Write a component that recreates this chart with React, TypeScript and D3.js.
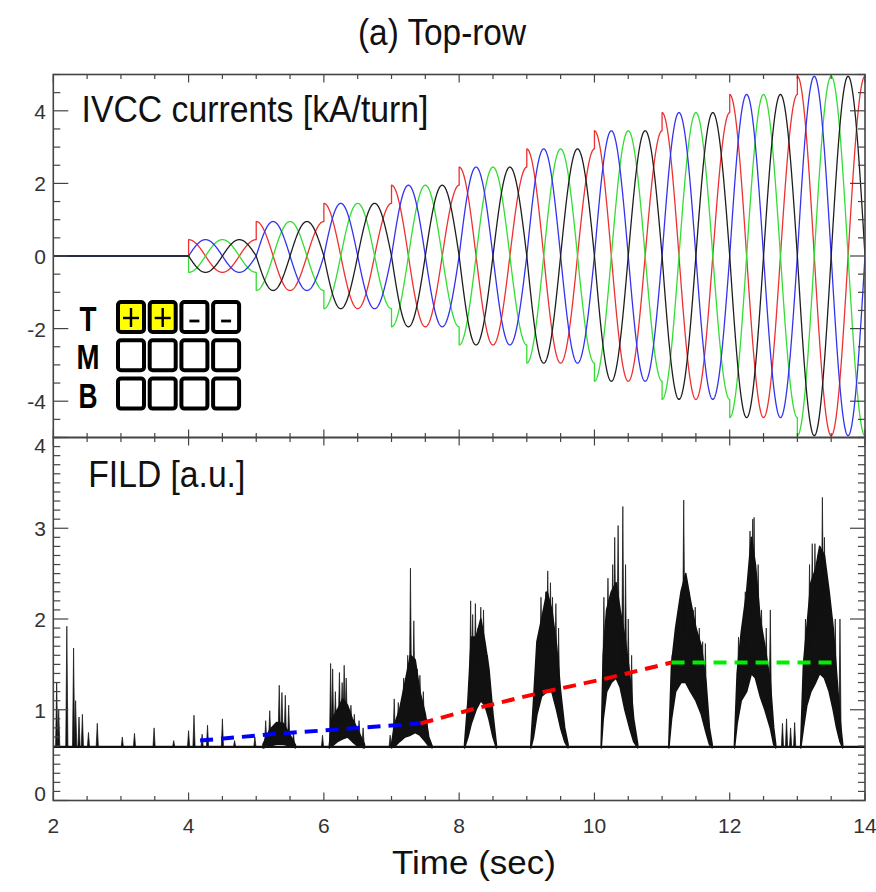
import React from 'react';
import * as d3 from 'd3';

// ---------- axes ----------
const TIME_DOMAIN: [number, number] = [2, 14];
const TIME_TICKS = [2, 4, 6, 8, 10, 12, 14];
const IVCC_DOMAIN: [number, number] = [-5, 5];
const IVCC_TICKS = [-4, -2, 0, 2, 4];
const FILD_DOMAIN: [number, number] = [0, 4];
const FILD_TICKS = [0, 1, 2, 3, 4];

// ---------- IVCC currents (top panel) ----------
// amplitude of each 1-second step
const STEP_START = [4, 5, 6, 7, 8, 9, 10, 11, 12, 13];
const STEP_AMPLITUDE = [0.45, 0.95, 1.45, 1.95, 2.45, 2.95, 3.45, 3.95, 4.45, 4.95];
const ROTATION_PERIOD = 1.0; // s
const COIL_NAMES = ['red', 'green', 'blue', 'black'];
const COIL_COLORS = ['#ee3030', '#33dd33', '#3333ee', '#1e1e1e'];
const COIL_DELAY = [0, 0.5, 0.25, 0.75]; // s, time of first peak after step

// ---------- FILD (bottom panel) ----------
const FILD_BASELINE = 0.59;
const ISOLATED_SPIKES: [number, number][] = [
  [2.05, 1.3], [2.08, 1.0], [2.2, 1.92], [2.3, 1.68], [2.33, 1.1], [2.38, 0.92],
  [2.43, 0.95], [2.52, 0.75], [2.65, 0.85], [3.02, 0.7], [3.2, 0.74], [3.49, 0.8],
  [3.78, 0.66], [4.0, 0.77], [4.08, 0.94], [4.2, 0.73], [4.28, 0.83], [4.5, 0.9],
  [4.68, 0.66], [4.98, 0.7], [5.98, 0.72], [6.98, 0.72], [12.78, 0.85], [12.84, 0.9],
  [12.9, 0.8], [12.96, 0.86],
];
// dense burst envelopes: [time, low, high]
const BURST_1: [number, number, number][] = [
  [5.1, 0.58, 0.62], [5.2, 0.6, 0.78], [5.3, 0.62, 0.86], [5.4, 0.62, 0.85], [5.5, 0.6, 0.72], [5.58, 0.58, 0.61],
];
const BURST_2: [number, number, number][] = [
  [6.08, 0.58, 0.6], [6.12, 0.6, 0.9], [6.2, 0.65, 1.0], [6.28, 0.68, 1.12], [6.35, 0.7, 1.05],
  [6.42, 0.65, 0.9], [6.5, 0.6, 0.78], [6.6, 0.58, 0.62],
];
const BURST_3: [number, number, number][] = [
  [7.0, 0.58, 0.62], [7.05, 0.6, 0.85], [7.12, 0.65, 1.0], [7.2, 0.7, 1.3], [7.28, 0.72, 1.6],
  [7.35, 0.75, 1.55], [7.42, 0.72, 1.2], [7.5, 0.65, 0.95], [7.55, 0.6, 0.7], [7.6, 0.58, 0.6],
];
const BURST_4: [number, number, number][] = [
  [8.08, 0.58, 0.62], [8.13, 0.7, 1.1], [8.18, 0.85, 1.8], [8.25, 1.0, 1.8], [8.32, 1.1, 2.0],
  [8.38, 1.05, 1.75], [8.44, 0.9, 1.45], [8.5, 0.7, 0.95], [8.55, 0.58, 0.62],
];
const BURST_5: [number, number, number][] = [
  [9.06, 0.58, 0.62], [9.1, 0.7, 1.1], [9.15, 0.95, 1.75], [9.22, 1.15, 2.0], [9.3, 1.2, 2.3],
  [9.37, 1.2, 2.1], [9.44, 1.0, 1.7], [9.5, 0.8, 1.2], [9.56, 0.65, 0.8], [9.61, 0.58, 0.62],
];
const BURST_6: [number, number, number][] = [
  [10.1, 0.58, 0.62], [10.13, 0.9, 1.6], [10.18, 1.2, 2.1], [10.25, 1.3, 2.3], [10.32, 1.35, 2.4],
  [10.38, 1.25, 2.1], [10.45, 1.0, 1.8], [10.52, 0.8, 1.4], [10.58, 0.65, 0.9], [10.64, 0.58, 0.62],
];
const BURST_7: [number, number, number][] = [
  [11.1, 0.58, 0.62], [11.14, 0.9, 1.5], [11.2, 1.2, 1.9], [11.28, 1.3, 2.3], [11.35, 1.3, 2.5],
  [11.42, 1.2, 2.2], [11.5, 1.1, 1.9], [11.58, 0.95, 1.7], [11.65, 0.75, 1.3], [11.7, 0.62, 0.8], [11.74, 0.58, 0.62],
];
const BURST_8: [number, number, number][] = [
  [12.07, 0.58, 0.62], [12.11, 0.85, 1.4], [12.17, 1.1, 1.85], [12.25, 1.2, 2.3], [12.32, 1.4, 2.9],
  [12.38, 1.35, 2.6], [12.45, 1.15, 2.0], [12.52, 1.0, 1.7], [12.6, 0.8, 1.3], [12.65, 0.62, 0.8], [12.68, 0.58, 0.62],
];
const BURST_9: [number, number, number][] = [
  [13.05, 0.58, 0.62], [13.09, 0.8, 1.5], [13.14, 1.05, 1.9], [13.2, 1.2, 2.4], [13.27, 1.3, 2.55],
  [13.33, 1.4, 2.8], [13.4, 1.35, 2.7], [13.47, 1.2, 2.3], [13.53, 1.0, 1.9], [13.58, 0.8, 1.4],
  [13.63, 0.65, 0.9], [13.67, 0.58, 0.62],
];
// spikes sticking out of the bursts: [time, peak]
const BURST_SPIKES: [number, number][] = [
  [5.14, 0.88], [5.2, 0.99], [5.27, 0.8], [5.34, 1.27], [5.38, 1.19], [5.43, 1.16], [5.48, 1.05], [5.55, 0.75],
  [6.1, 1.51], [6.13, 1.45], [6.17, 1.2], [6.23, 1.41], [6.27, 1.3], [6.3, 1.49], [6.33, 1.35], [6.4, 1.05], [6.45, 0.95], [6.52, 0.88], [6.58, 0.8],
  [7.04, 1.12], [7.1, 1.08], [7.18, 1.35], [7.24, 1.6], [7.28, 2.56], [7.33, 1.98], [7.38, 1.45], [7.42, 1.38], [7.47, 1.2], [7.52, 0.9],
  [8.17, 2.2], [8.2, 2.05], [8.24, 2.17], [8.28, 1.9], [8.32, 2.13], [8.36, 2.1], [8.42, 1.6],
  [9.21, 2.24], [9.28, 2.3], [9.31, 2.53], [9.35, 2.4], [9.38, 2.24], [9.43, 2.17], [9.47, 1.9],
  [10.14, 2.24], [10.2, 2.45], [10.27, 2.6], [10.3, 2.9], [10.35, 3.03], [10.42, 3.24], [10.46, 2.6], [10.5, 2.0], [10.55, 1.6],
  [11.15, 1.6], [11.25, 2.0], [11.32, 3.31], [11.36, 2.4], [11.4, 2.3], [11.46, 2.1], [11.49, 2.13], [11.55, 1.9], [11.6, 1.75], [11.64, 1.73],
  [12.13, 1.8], [12.2, 1.95], [12.23, 2.3], [12.3, 2.97], [12.34, 3.1], [12.36, 3.12], [12.42, 2.6], [12.47, 2.1], [12.54, 1.9], [12.6, 2.1],
  [13.12, 2.0], [13.18, 2.6], [13.22, 2.83], [13.26, 2.83], [13.3, 2.7], [13.37, 3.34], [13.4, 2.9], [13.48, 2.2], [13.56, 2.0], [13.63, 2.0],
];
// dashed trend lines
const BLUE_TREND: [number, number][] = [[4.17, 0.66], [5.3, 0.735], [6.15, 0.78], [7.43, 0.85]];
const RED_TREND: [number, number][] = [[7.43, 0.85], [8.17, 1.0], [9.16, 1.18], [10.15, 1.34], [11.14, 1.52]];
const GREEN_TREND: [number, number][] = [[11.14, 1.52], [13.53, 1.52]];

// ---------- coil legend ----------
const GRID_ROWS = ['T', 'M', 'B'];
const TOP_ROW_SIGNS = ['+', '+', '-', '-'];

const FONT = "'Liberation Sans', Arial, Helvetica, sans-serif";

export default function App() {
  const W = 876, H = 892;
  const L = 53.3, R = 865;
  const T1 = 74.5, B1 = 437.5, T2 = 437.5, B2 = 800.5;

  const x = d3.scaleLinear().domain(TIME_DOMAIN).range([L, R]);
  const y1 = d3.scaleLinear().domain(IVCC_DOMAIN).range([B1, T1]);
  const y2 = d3.scaleLinear().domain(FILD_DOMAIN).range([B2, T2]);

  const coilSeries = (delay: number) => {
    const pts: [number, number][] = [[TIME_DOMAIN[0], 0], [STEP_START[0], 0]];
    STEP_START.forEach((t0, i) => {
      const t1 = i + 1 < STEP_START.length ? STEP_START[i + 1] : TIME_DOMAIN[1];
      const A = STEP_AMPLITUDE[i];
      const n = Math.round((t1 - t0) / 0.004);
      for (let k = 0; k <= n; k++) {
        const t = t0 + ((t1 - t0) * k) / n;
        pts.push([t, A * Math.cos((2 * Math.PI * (t - delay)) / ROTATION_PERIOD)]);
      }
    });
    return pts;
  };
  const line1 = d3.line<[number, number]>().x(d => x(d[0])).y(d => y1(d[1]));
  const line2 = d3.line<[number, number]>().x(d => x(d[0])).y(d => y2(d[1]));
  const area2 = d3.area<[number, number, number]>().x(d => x(d[0])).y0(d => y2(d[1])).y1(d => y2(d[2]));

  const bursts = [BURST_1, BURST_2, BURST_3, BURST_4, BURST_5, BURST_6, BURST_7, BURST_8, BURST_9];

  // base of a spike: middle of the dense band it grows out of (or the baseline)
  const spikeBase = (t: number) => {
    for (const b of bursts) {
      if (t >= b[0][0] && t <= b[b.length - 1][0]) {
        for (let i = 0; i < b.length - 1; i++) {
          if (t >= b[i][0] && t <= b[i + 1][0]) {
            const f = (t - b[i][0]) / (b[i + 1][0] - b[i][0]);
            const lo = b[i][1] + f * (b[i + 1][1] - b[i][1]);
            const hi = b[i][2] + f * (b[i + 1][2] - b[i][2]);
            return (lo + hi) / 2;
          }
        }
      }
    }
    return FILD_BASELINE;
  };
  const spikePath = (s: [number, number]) => {
    const xc = x(s[0]);
    const yb = y2(spikeBase(s[0]));
    return `M${xc - 1.1},${yb}L${xc},${y2(s[1])}L${xc + 1.1},${yb}Z`;
  };

  const xMinor = d3.range(2, 14.001, 0.5);
  const y1Minor = d3.range(-5, 5.001, 0.5);
  const y2Minor = d3.range(0, 4.001, 0.1);

  const axisColor = '#444';

  const frame = (top: number, bottom: number, yScale: d3.ScaleLinear<number, number>, minor: number[], major: number[], key: string) => (
    <g key={key}>
      {xMinor.map((t, i) => {
        const isMaj = TIME_TICKS.some(m => Math.abs(m - t) < 1e-6);
        const len = isMaj ? 8 : 4.5;
        return (
          <g key={'xt' + i}>
            <line x1={x(t)} x2={x(t)} y1={bottom} y2={bottom - len} stroke={axisColor} strokeWidth={1.2} />
            <line x1={x(t)} x2={x(t)} y1={top} y2={top + len} stroke={axisColor} strokeWidth={1.2} />
          </g>
        );
      })}
      {minor.map((v, i) => {
        const isMaj = major.some(m => Math.abs(m - v) < 1e-6);
        const len = isMaj ? 15 : 7;
        return (
          <g key={'yt' + i}>
            <line x1={L} x2={L + len} y1={yScale(v)} y2={yScale(v)} stroke={axisColor} strokeWidth={1.2} />
            <line x1={R} x2={R - len} y1={yScale(v)} y2={yScale(v)} stroke={axisColor} strokeWidth={1.2} />
          </g>
        );
      })}
      <rect x={L} y={top} width={R - L} height={bottom - top} fill="none" stroke={axisColor} strokeWidth={1.6} />
    </g>
  );

  // legend grid geometry
  const gx0 = 116, gpitch = 31.7, gw = 30;
  const gy0 = 300, gvpitch = 38.3, gh = 34;

  return (
    <div style={{ position: 'absolute', left: 0, top: 0 }}>
      <svg width={W} height={H} style={{ display: 'block', background: '#fff' }} fontFamily={FONT}>
        <rect x={0} y={0} width={W} height={H} fill="#fff" />
        <defs>
          <clipPath id="clip1"><rect x={L} y={T1} width={R - L} height={B1 - T1} /></clipPath>
          <clipPath id="clip2"><rect x={L} y={T2} width={R - L} height={B2 - T2} /></clipPath>
        </defs>

        {/* title */}
        <text x={358} y={45} fontSize={37} textLength={168} lengthAdjust="spacingAndGlyphs" fill="#111">(a) Top-row</text>

        {/* top panel curves */}
        <g clipPath="url(#clip1)">
          {COIL_NAMES.map((n, i) => (
            <path key={n} d={line1(coilSeries(COIL_DELAY[i])) || ''} fill="none" stroke={COIL_COLORS[i]} strokeWidth={1.3} strokeLinejoin="round" />
          ))}
        </g>

        {/* bottom panel FILD */}
        <g clipPath="url(#clip2)">
          <line x1={x(2)} x2={x(14)} y1={y2(FILD_BASELINE)} y2={y2(FILD_BASELINE)} stroke="#111" strokeWidth={2.2} />
          {bursts.map((b, i) => (
            <path key={'b' + i} d={area2(b) || ''} fill="#111" stroke="#111" strokeWidth={1.6} strokeLinejoin="round" />
          ))}
          {ISOLATED_SPIKES.concat(BURST_SPIKES).map((s, i) => (
            <path key={'s' + i} d={spikePath(s)} fill="#111" stroke="#111" strokeWidth={0.7} strokeLinejoin="round" />
          ))}
          <path d={line2(BLUE_TREND) || ''} fill="none" stroke="#0000ff" strokeWidth={4} strokeDasharray="13 8" />
          <path d={line2(RED_TREND) || ''} fill="none" stroke="#ff0000" strokeWidth={4} strokeDasharray="13 8" />
          <path d={line2(GREEN_TREND) || ''} fill="none" stroke="#00ee00" strokeWidth={4} strokeDasharray="13 8" />
        </g>

        {frame(T1, B1, y1, y1Minor, IVCC_TICKS, 'f1')}
        {frame(T2, B2, y2, y2Minor, FILD_TICKS, 'f2')}

        {/* y tick labels */}
        {IVCC_TICKS.map(v => (
          <text key={'l1' + v} x={46} y={y1(v) + 8} fontSize={21} textAnchor="end" fill="#333">{v < 0 ? '-' + Math.abs(v) : String(v)}</text>
        ))}
        {FILD_TICKS.map(v => {
          let yy = y2(v) + 8;
          if (v === 4) yy = y2(v) + 15;
          if (v === 0) yy = y2(v) + 0;
          return <text key={'l2' + v} x={46} y={yy} fontSize={21} textAnchor="end" fill="#333">{String(v)}</text>;
        })}
        {/* x tick labels */}
        {TIME_TICKS.map(t => (
          <text key={'xl' + t} x={x(t)} y={833} fontSize={21} textAnchor="middle" fill="#333">{String(t)}</text>
        ))}
        <text x={392} y={874} fontSize={33} textLength={164} lengthAdjust="spacingAndGlyphs" fill="#111">Time (sec)</text>

        {/* panel labels */}
        <text x={81.5} y={121.7} fontSize={37} textLength={347} lengthAdjust="spacingAndGlyphs" fill="#111">IVCC currents [kA/turn]</text>
        <text x={88.3} y={486.7} fontSize={37} textLength={157} lengthAdjust="spacingAndGlyphs" fill="#111">FILD [a.u.]</text>

        {/* coil legend */}
        {GRID_ROWS.map((r, ri) => (
          <g key={r}>
            <text x={88} y={gy0 + ri * gvpitch + 31} fontSize={35} fontWeight="bold" textAnchor="middle"
              textLength={r === 'M' ? 23 : r === 'T' ? 17 : 19} lengthAdjust="spacingAndGlyphs" fill="#000">{r}</text>
            {TOP_ROW_SIGNS.map((s, ci) => {
              const bx = gx0 + ci * gpitch, by = gy0 + ri * gvpitch;
              const plus = ri === 0 && s === '+';
              const minus = ri === 0 && s === '-';
              const cx = bx + gw / 2, cy = by + gh / 2;
              return (
                <g key={ci}>
                  <rect x={bx + 2} y={by + 2} width={gw - 4} height={gh - 4} rx={3} fill={plus ? '#ffff00' : '#fff'} stroke="#000" strokeWidth={4} />
                  {plus && (
                    <g stroke="#000" strokeWidth={2.4}>
                      <line x1={cx - 8} x2={cx + 8} y1={cy + 1} y2={cy + 1} />
                      <line x1={cx} x2={cx} y1={cy - 9} y2={cy + 10} />
                    </g>
                  )}
                  {minus && <line x1={cx - 5} x2={cx + 5} y1={cy + 4} y2={cy + 4} stroke="#000" strokeWidth={2.8} />}
                </g>
              );
            })}
          </g>
        ))}
      </svg>
    </div>
  );
}
